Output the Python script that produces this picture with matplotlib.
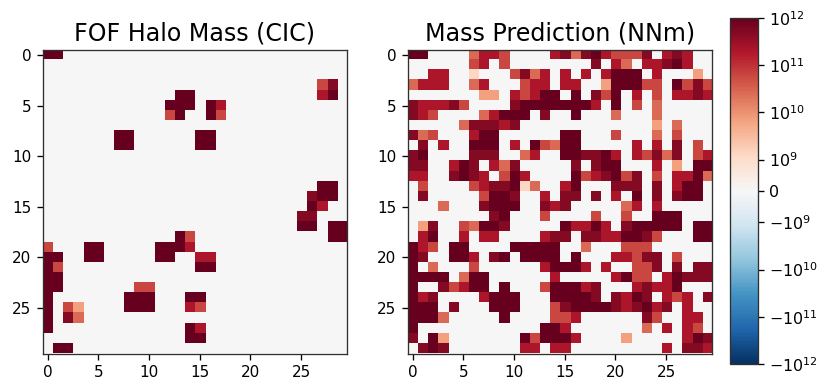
import numpy as np
import matplotlib
matplotlib.use("Agg")
import matplotlib.pyplot as plt
from matplotlib.colors import SymLogNorm

levels = {'.': 0.0, 'a': 1.2e9, 'b': 7e9, 's': 2.5e10, 'c': 6e10, 'd': 2e11, 'e': 5e11, 'f': 1e12}

empty = "..... ..... ..... ..... ..... ....."
fof_rows = [
    "ff... ..... ..... ..... ..... .....",
    empty,
    empty,
    "..... ..... ..... ..... ..... ..ce.",
    "..... ..... ...ff ..... ..... ..df.",
    "..... ..... ..fff .fd.. ..... .....",
    "..... ..... ..cf. .fc.. ..... .....",
    empty,
    "..... ..ff. ..... ff... ..... .....",
    "..... ..ff. ..... ff... ..... .....",
    empty,
    empty,
    empty,
    "..... ..... ..... ..... ..... ..ff.",
    "..... ..... ..... ..... ..... .eff.",
    "..... ..... ..... ..... ..... .fd..",
    "..... ..... ..... ..... ..... ee...",
    "..... ..... ..... ..... ..... ff.ff",
    "..... ..... ...fc ..... ..... ...ff",
    "c...f f.... .fffd ..... ..... .....",
    "ff..f f.... .ff.. dd... ..... .....",
    "fc... ..... ..... ff... ..... .....",
    "ff... ..... ..... ..... ..... .....",
    "ff... ....c c.... ..... ..... .....",
    "f.... ...ff f...f f.... ..... .....",
    "f.cb. ...ff f...d c.... ..... .....",
    "f.es. ..... ..... ..... ..... .....",
    "f.... ..... ....f d.... ..... .....",
    "..... ..... ....f f.... ..... .....",
    ".ff.. ..... ..... ..... ..... .....",
]

nn_rows = [
    "ff... .sddc ....d esefd ccce. ded..",
    "..... .cd.c ..... ...e. ds.dd efd..",
    "..dd. .a... cesd. d.d.d fff.d ...b.",
    "sddd. .sd.. .cdd. dd..b fffcc .fcec",
    "..... ..bb. dcdff .f.ec f.d.c .dded",
    "eddde c.... effff fffd. f.c.s .....",
    "edc.. ..sdf ff.e. .f... s...s .....",
    "..... seeed e.... ..... ....b .s...",
    "esc.. .dff. ..... ff... c...s .c...",
    ".e.d. .fff. d.fcs ff... ..d.d .e.c.",
    "ef... .eee. .sd.. ffeef d.dce se.cd",
    "ee..d fe.ds e.... .e.ef f...d .b.ff",
    "dd..e fed.c fd... .fcde fce.c .ddfs",
    ".c... .cdee fas.. df... eee.e .dff.",
    ".e... ..cff e..d. ee.e. d.f.e .eff.",
    "...s. ..eff f..ed e.... .sd.d .....",
    "..... ...ef ...c. ...c. .c..f ff...",
    ".be.. csffe ..... fddfd .efff ff.ff",
    ".df.. d.dd. ...de e.eed dffec ...ff",
    "fdc.f f.... fffff ..s.. .ccc. .....",
    "fe..f fd.ef .ffff .f... ddcee .c...",
    "f.s.. .c... ...df ffd.d ..cce .e.ee",
    "ffff. sff.. ....d ..... dfcc. dfeee",
    "f..ec dff.f ...cf ffde. ..ded df...",
    "fde.. ..dff f...f fffe. edfe. dcd.e",
    "fff.e ...ff f...c effff edefd e.d..",
    "fffs. ....f ....c cd... ...ec ..dd.",
    "f.... ..... ...ff d.... ...s. d.dc.",
    "e.fb. ..... .fcff fd... .b... ..dfe",
    ".efe. ..... .dd.d d.... ..... d.eed",
]

titles = ["FOF Halo Mass (CIC)", "Mass Prediction (NNm)"]
axis_ticks = [0, 5, 10, 15, 20, 25]
cbar_ticks = [1e12, 1e11, 1e10, 1e9, 0, -1e9, -1e10, -1e11, -1e12]
cbar_labels = [r"$10^{12}$", r"$10^{11}$", r"$10^{10}$", r"$10^{9}$", "0",
               r"$-10^{9}$", r"$-10^{10}$", r"$-10^{11}$", r"$-10^{12}$"]


def to_grid(rows):
    return np.array([[levels[ch] for ch in r.replace(" ", "")] for r in rows])


W, H = 830, 392
fig = plt.figure(figsize=(W / 100, H / 100), dpi=100)
norm = SymLogNorm(linthresh=1e9, linscale=0.6, vmin=-1e12, vmax=1e12, base=10)


def box(l, t, r, b):
    return [l / W, 1 - b / H, (r - l) / W, (b - t) / H]


axes = [fig.add_axes(box(42.7, 50, 346.7, 353.5)), fig.add_axes(box(407.7, 50, 711.7, 353.5))]
for ax, rows, title in zip(axes, [fof_rows, nn_rows], titles):
    im = ax.imshow(to_grid(rows), cmap="RdBu_r", norm=norm, interpolation="nearest", aspect="auto")
    ax.set_title(title, fontsize=17.1, pad=7)
    ax.set_xticks(axis_ticks)
    ax.set_yticks(axis_ticks)
    ax.tick_params(labelsize=11, length=4.2, width=0.95, pad=4)
    for s in ax.spines.values():
        s.set_linewidth(0.95)
        s.set_edgecolor("#303030")

cax = fig.add_axes(box(730, 18, 757.7, 364))
cb = fig.colorbar(im, cax=cax)
cb.set_ticks(cbar_ticks)
cb.set_ticklabels(cbar_labels)
cb.minorticks_off()
cax.tick_params(labelsize=11.4, length=4.2, width=0.95, pad=4)
cb.outline.set_linewidth(0.95)
cb.outline.set_edgecolor("#303030")

fig.savefig("out.png", dpi=100)
